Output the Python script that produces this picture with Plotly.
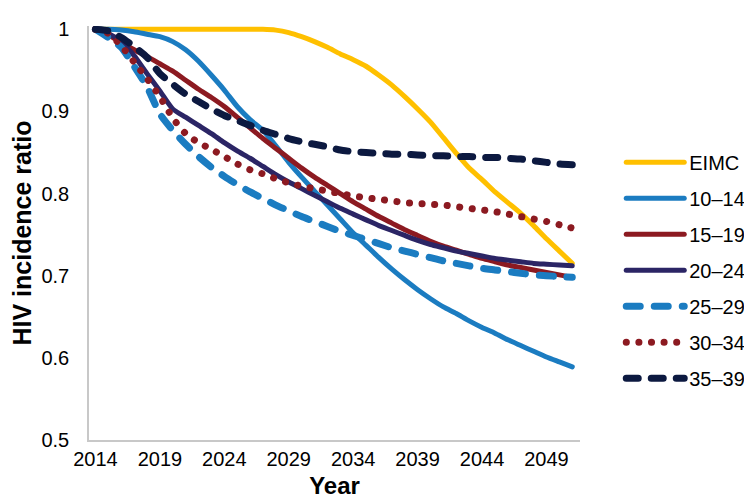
import plotly.graph_objects as go

years = list(range(2014, 2052))

eimc = [1.0]*14 + [0.999, 0.996, 0.991, 0.985, 0.978, 0.970, 0.963, 0.955, 0.944, 0.932,
                   0.918, 0.903, 0.887, 0.868, 0.849, 0.831, 0.817, 0.802, 0.789, 0.776,
                   0.761, 0.745, 0.730, 0.715]
a10_14 = [1.0, 1.0, 0.999, 0.997, 0.994, 0.991, 0.985, 0.975, 0.961, 0.944,
          0.926, 0.906, 0.890, 0.877, 0.858, 0.838, 0.820, 0.803, 0.786, 0.769,
          0.752, 0.737, 0.722, 0.708, 0.695, 0.683, 0.672, 0.662, 0.654, 0.645,
          0.637, 0.630, 0.622, 0.615, 0.608, 0.601, 0.595, 0.589]
a15_19 = [1.0, 0.993, 0.984, 0.975, 0.967, 0.958, 0.949, 0.938, 0.927, 0.917,
          0.906, 0.893, 0.880, 0.867, 0.855, 0.843, 0.831, 0.820, 0.810, 0.800,
          0.790, 0.781, 0.772, 0.764, 0.756, 0.749, 0.742, 0.736, 0.731, 0.726,
          0.721, 0.717, 0.713, 0.710, 0.707, 0.704, 0.701, 0.698]
a20_24 = [1.0, 0.995, 0.985, 0.968, 0.946, 0.925, 0.903, 0.893, 0.883, 0.873,
          0.862, 0.852, 0.843, 0.833, 0.823, 0.814, 0.806, 0.798, 0.790, 0.782,
          0.775, 0.768, 0.761, 0.755, 0.749, 0.743, 0.738, 0.734, 0.730, 0.727,
          0.724, 0.721, 0.719, 0.717, 0.715, 0.714, 0.713, 0.712]
a25_29 = [1.0, 0.990, 0.978, 0.955, 0.930, 0.897, 0.877, 0.860, 0.845, 0.832,
          0.821, 0.811, 0.802, 0.794, 0.786, 0.779, 0.772, 0.766, 0.760, 0.754,
          0.749, 0.744, 0.739, 0.734, 0.730, 0.726, 0.722, 0.718, 0.715, 0.712,
          0.709, 0.707, 0.705, 0.703, 0.701, 0.700, 0.699, 0.698]
a30_34 = [1.0, 0.995, 0.980, 0.960, 0.940, 0.918, 0.892, 0.873, 0.862, 0.854,
          0.845, 0.836, 0.829, 0.824, 0.818, 0.813, 0.809, 0.806, 0.803, 0.800,
          0.797, 0.795, 0.793, 0.791, 0.789, 0.788, 0.787, 0.786, 0.784, 0.782,
          0.780, 0.778, 0.775, 0.772, 0.769, 0.766, 0.762, 0.758]
a35_39 = [1.0, 0.998, 0.990, 0.979, 0.966, 0.946, 0.933, 0.921, 0.912, 0.903,
          0.895, 0.889, 0.883, 0.877, 0.872, 0.867, 0.863, 0.860, 0.857, 0.853,
          0.851, 0.850, 0.849, 0.848, 0.848, 0.847, 0.846, 0.846, 0.845, 0.845,
          0.844, 0.844, 0.843, 0.842, 0.840, 0.838, 0.836, 0.835]

names = ["EIMC", "10\u201314", "15\u201319", "20\u201324", "25\u201329", "30\u201334", "35\u201339"]
series = [eimc, a10_14, a15_19, a20_24, a25_29, a30_34, a35_39]
colors = ["#FFC000", "#1B7CC1", "#8C1A21", "#2B2565", "#1B7CC1", "#8C1A21", "#0C1940"]
dashes = ["solid", "solid", "solid", "solid", "14px,14px", "0.1px,12.5px", "12px,13px"]
widths = [5, 5, 5, 5, 7, 7, 7]

xtick_vals = list(range(2014, 2050, 5))

fig = go.Figure()
for i, (n, s) in enumerate(zip(names, series)):
    fig.add_trace(go.Scatter(
        x=years, y=s, name=n, mode="lines", legendgroup=n,
        line=dict(color=colors[i], width=widths[i], dash=dashes[i], shape="spline", smoothing=0.6),
    ))

fig.update_layout(
    width=752, height=502,
    margin=dict(l=80, r=167, t=10, b=70),
    paper_bgcolor="white", plot_bgcolor="white",
    font=dict(family="Liberation Sans, Arial", size=20, color="#000"),
    showlegend=True,
    legend=dict(x=1.084, y=0.41, xanchor="left", yanchor="middle",
                itemwidth=58, tracegroupgap=7, font=dict(size=20),
                bgcolor="rgba(0,0,0,0)"),
    xaxis=dict(range=[2013.5, 2051.6], tickvals=xtick_vals, ticks="", showgrid=False,
               showline=True, linecolor="#C8C8C8", linewidth=1.5, zeroline=False,
               title=dict(text="<b>Year</b>", font=dict(size=24), standoff=8),
               tickfont=dict(size=20)),
    yaxis=dict(range=[0.5, 1.004], tickvals=[0.5, 0.6, 0.7, 0.8, 0.9, 1.0],
               ticktext=["0.5", "0.6", "0.7", "0.8", "0.9", "1"], ticks="",
               showgrid=False, showline=True, linecolor="#C8C8C8", linewidth=1.5,
               zeroline=False, ticklabelstandoff=14,
               title=dict(text="<b>HIV incidence ratio</b>", font=dict(size=25), standoff=6),
               tickfont=dict(size=20)),
)

post = """
var s = document.createElement('style');
s.textContent = 'path.js-line { stroke-linecap: round !important; stroke-linejoin: round !important; }';
document.head.appendChild(s);
"""

fig.write_html("out.html", post_script=post)
